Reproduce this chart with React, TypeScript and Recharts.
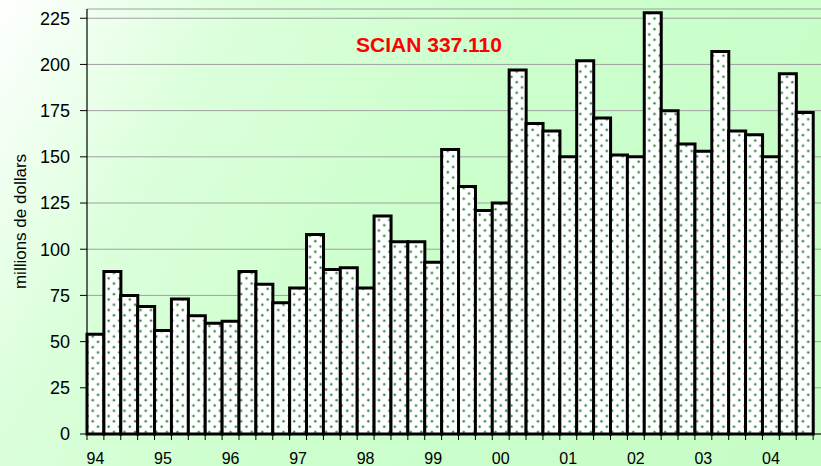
import React from 'react';
import { BarChart, Bar, XAxis, YAxis, CartesianGrid } from 'recharts';

// ---- data ----
const years = ['94', '95', '96', '97', '98', '99', '00', '01', '02', '03', '04'];
const quarters = ['T1', 'T2', 'T3', 'T4'];
const values: (number | null)[] = [
  54, 88, 75, 69,
  56, 73, 64, 60,
  61, 88, 81, 71,
  79, 108, 89, 90,
  79, 118, 104, 104,
  93, 154, 134, 121,
  125, 197, 168, 164,
  150, 202, 171, 151,
  150, 228, 175, 157,
  153, 207, 164, 162,
  150, 195, 174, null,
];
const yTicks = [0, 25, 50, 75, 100, 125, 150, 175, 200, 225];
const title = 'SCIAN 337.110';
const yLabel = 'millions de dollars';

const categories = years.flatMap((y) => quarters.map((q) => `${y}-${q}`));
const data = categories.map((c, i) => ({ cat: c, value: values[i] }));

// ---- layout constants ----
const CHART_W = 830;
const CHART_H = 466;
const Y_AXIS_W = 87;
const PLOT_W = CHART_W - Y_AXIS_W;
const BAND = PLOT_W / categories.length;

const XTick = (props: any) => {
  const { x, y, payload, index } = props;
  const bx = x - BAND / 2;
  const label = index % 4 === 0 ? String(payload.value).split('-')[0] : null;
  return (
    <g>
      <line x1={bx} y1={y} x2={bx} y2={y + 6} stroke="#000" strokeWidth={1} />
      {label && (
        <text
          x={x}
          y={y + 29.5}
          textAnchor="middle"
          fontSize={16}
          fontFamily="'Liberation Sans Narrow', 'Liberation Sans', Arial, sans-serif"
          fill="#000"
        >
          {label}
        </text>
      )}
    </g>
  );
};

const YLabel = (props: any) => {
  const vb = props.viewBox || {};
  const cx = 20;
  const cy = (vb.y ?? 9) + (vb.height ?? 425) / 2;
  return (
    <text
      x={cx}
      y={cy}
      transform={`rotate(-90, ${cx}, ${cy})`}
      textAnchor="middle"
      dominantBaseline="central"
      fontSize={17}
      fontFamily="'Liberation Sans', Arial, sans-serif"
      fill="#000"
    >
      {yLabel}
    </text>
  );
};

export default function App() {
  return (
    <div
      style={{
        position: 'absolute',
        left: 0,
        top: 0,
        width: 821,
        height: 466,
        overflow: 'hidden',
        background: 'linear-gradient(120deg, #ffffff 0%, #dcffdc 22%, #ccffcc 50%, #c6fcc6 100%)',
      }}
    >
      <BarChart
        width={CHART_W}
        height={CHART_H}
        data={data}
        margin={{ top: 9, right: 0, bottom: 0, left: 0 }}
        barCategoryGap={0}
        barGap={0}
      >
        <defs>
          <pattern id="dots" patternUnits="userSpaceOnUse" width={10.6} height={10.6}>
            <rect x={0} y={0} width={10.6} height={10.6} fill="#ffffff" />
            <circle cx={2.65} cy={2.65} r={1.6} fill="#b8dcbc" />
            <circle cx={7.95} cy={7.95} r={1.6} fill="#b8dcbc" />
            <circle cx={2.65} cy={2.65} r={1.0} fill="#1e6a30" />
            <circle cx={7.95} cy={7.95} r={1.0} fill="#1e6a30" />
          </pattern>
        </defs>
        <CartesianGrid vertical={false} stroke="#a0a0a0" strokeWidth={1} />
        <XAxis
          dataKey="cat"
          interval={0}
          height={32}
          tickSize={0}
          tickMargin={0}
          tickLine={false}
          axisLine={{ stroke: '#000', strokeWidth: 1.2 }}
          tick={<XTick />}
        />
        <YAxis
          width={Y_AXIS_W}
          domain={[0, 230]}
          ticks={yTicks}
          interval={0}
          tickSize={7}
          tickMargin={10}
          axisLine={{ stroke: '#000', strokeWidth: 1.2 }}
          tickLine={{ stroke: '#000', strokeWidth: 1 }}
          tick={{ fill: '#000', fontSize: 18, fontFamily: "'Liberation Sans', Arial, sans-serif" }}
          label={<YLabel />}
        />
        <Bar
          dataKey="value"
          fill="url(#dots)"
          stroke="#000"
          strokeWidth={3}
          isAnimationActive={false}
        />
      </BarChart>
      <div
        style={{
          position: 'absolute',
          left: 329,
          top: 34,
          width: 200,
          textAlign: 'center',
          fontFamily: "'Liberation Sans', Arial, sans-serif",
          fontWeight: 'bold',
          fontSize: 21,
          lineHeight: '21px',
          color: '#ff0000',
        }}
      >
        {title}
      </div>
    </div>
  );
}
